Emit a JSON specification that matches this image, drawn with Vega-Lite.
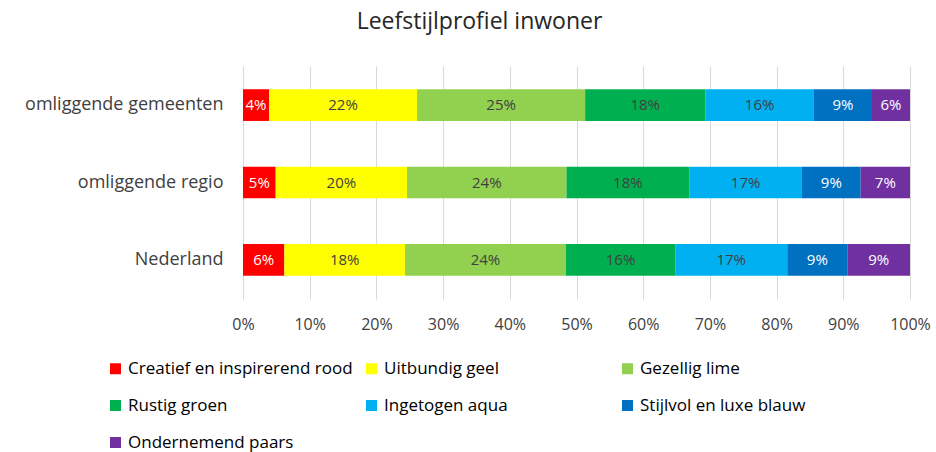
{
  "$schema": "https://vega.github.io/schema/vega-lite/v6.json",
  "autosize": "none",
  "width": 667,
  "height": 233,
  "padding": {"left": 243, "top": 66, "right": 26, "bottom": 153},
  "background": "white",
  "config": {
    "font": "Open Sans",
    "view": {"stroke": null},
    "text": {"font": "Open Sans"}
  },
  "title": {
    "text": "Leefstijlprofiel inwoner",
    "fontSize": 23,
    "fontWeight": "normal",
    "font": "Open Sans",
    "color": "#262626",
    "baseline": "alphabetic",
    "offset": 14,
    "dx": -97
  },
  "data": {
    "values": [
      {"regio": "omliggende gemeenten", "cat": "Creatief en inspirerend rood", "k": 1, "value": 0.039},
      {"regio": "omliggende gemeenten", "cat": "Uitbundig geel", "k": 2, "value": 0.222},
      {"regio": "omliggende gemeenten", "cat": "Gezellig lime", "k": 3, "value": 0.252},
      {"regio": "omliggende gemeenten", "cat": "Rustig groen", "k": 4, "value": 0.180},
      {"regio": "omliggende gemeenten", "cat": "Ingetogen aqua", "k": 5, "value": 0.163},
      {"regio": "omliggende gemeenten", "cat": "Stijlvol en luxe blauw", "k": 6, "value": 0.087},
      {"regio": "omliggende gemeenten", "cat": "Ondernemend paars", "k": 7, "value": 0.057},
      {"regio": "omliggende regio", "cat": "Creatief en inspirerend rood", "k": 1, "value": 0.049},
      {"regio": "omliggende regio", "cat": "Uitbundig geel", "k": 2, "value": 0.197},
      {"regio": "omliggende regio", "cat": "Gezellig lime", "k": 3, "value": 0.239},
      {"regio": "omliggende regio", "cat": "Rustig groen", "k": 4, "value": 0.184},
      {"regio": "omliggende regio", "cat": "Ingetogen aqua", "k": 5, "value": 0.169},
      {"regio": "omliggende regio", "cat": "Stijlvol en luxe blauw", "k": 6, "value": 0.088},
      {"regio": "omliggende regio", "cat": "Ondernemend paars", "k": 7, "value": 0.074},
      {"regio": "Nederland", "cat": "Creatief en inspirerend rood", "k": 1, "value": 0.062},
      {"regio": "Nederland", "cat": "Uitbundig geel", "k": 2, "value": 0.181},
      {"regio": "Nederland", "cat": "Gezellig lime", "k": 3, "value": 0.241},
      {"regio": "Nederland", "cat": "Rustig groen", "k": 4, "value": 0.164},
      {"regio": "Nederland", "cat": "Ingetogen aqua", "k": 5, "value": 0.168},
      {"regio": "Nederland", "cat": "Stijlvol en luxe blauw", "k": 6, "value": 0.090},
      {"regio": "Nederland", "cat": "Ondernemend paars", "k": 7, "value": 0.094}
    ]
  },
  "transform": [
    {"stack": "value", "groupby": ["regio"], "sort": [{"field": "k", "order": "ascending"}], "as": ["v0", "v1"]},
    {"calculate": "(datum.v0 + datum.v1) / 2", "as": "mid"}
  ],
  "encoding": {
    "y": {
      "field": "regio",
      "type": "nominal",
      "sort": ["omliggende gemeenten", "omliggende regio", "Nederland"],
      "scale": {"paddingInner": 0.59, "paddingOuter": 0.3},
      "axis": {
        "title": null,
        "domain": false,
        "ticks": false,
        "labelPadding": 20,
        "labelFontSize": 18,
        "labelColor": "#404040",
        "labelFont": "Open Sans",
        "labelLimit": 300
      }
    }
  },
  "layer": [
    {
      "mark": {"type": "bar"},
      "encoding": {
        "x": {
          "field": "v0",
          "type": "quantitative",
          "scale": {"domain": [0, 1], "nice": false},
          "axis": {
            "title": null,
            "format": ".0%",
            "values": [0, 0.1, 0.2, 0.3, 0.4, 0.5, 0.6, 0.7, 0.8, 0.9, 1],
            "domain": false,
            "ticks": false,
            "grid": true,
            "gridColor": "#d9d9d9",
            "gridWidth": 1,
            "labelPadding": 17,
            "labelFontSize": 16,
            "labelColor": "#404040",
            "labelFont": "Open Sans",
            "labelFlush": false,
            "labelOverlap": false
          }
        },
        "x2": {"field": "v1"},
        "color": {
          "field": "cat",
          "type": "nominal",
          "scale": {
            "domain": ["Creatief en inspirerend rood", "Uitbundig geel", "Gezellig lime", "Rustig groen", "Ingetogen aqua", "Stijlvol en luxe blauw", "Ondernemend paars"],
            "range": ["#FF0000", "#FFFF00", "#92D050", "#00B050", "#00B0F0", "#0070C0", "#7030A0"]
          },
          "legend": {
            "title": null,
            "orient": "none",
            "legendX": -136,
            "legendY": 294,
            "columns": 3,
            "direction": "horizontal",
            "gridAlign": "all",
            "columnPadding": 10,
            "rowPadding": 19,
            "symbolType": "square",
            "symbolSize": 121,
            "symbolStrokeWidth": 0,
            "labelFontSize": 17,
            "labelFont": "Open Sans",
            "labelColor": "#000000",
            "labelOffset": 4,
            "labelLimit": 400
          }
        }
      }
    },
    {
      "mark": {"type": "text", "fontSize": 15, "baseline": "middle", "align": "center"},
      "encoding": {
        "x": {
          "field": "mid",
          "type": "quantitative",
          "axis": {
            "title": null,
            "format": ".0%",
            "values": [0, 0.1, 0.2, 0.3, 0.4, 0.5, 0.6, 0.7, 0.8, 0.9, 1],
            "domain": false,
            "ticks": false,
            "grid": true,
            "gridColor": "#d9d9d9",
            "gridWidth": 1,
            "labelPadding": 17,
            "labelFontSize": 16,
            "labelColor": "#404040",
            "labelFont": "Open Sans",
            "labelFlush": false,
            "labelOverlap": false
          }
        },
        "text": {"field": "value", "type": "quantitative", "format": ".0%"},
        "color": {
          "condition": {"test": "datum.k == 1 || datum.k == 6 || datum.k == 7", "value": "white"},
          "value": "#404040"
        },
        "fontWeight": {
          "condition": {"test": "datum.k == 6 || datum.k == 7", "value": "bold"},
          "value": "normal"
        }
      }
    }
  ]
}
